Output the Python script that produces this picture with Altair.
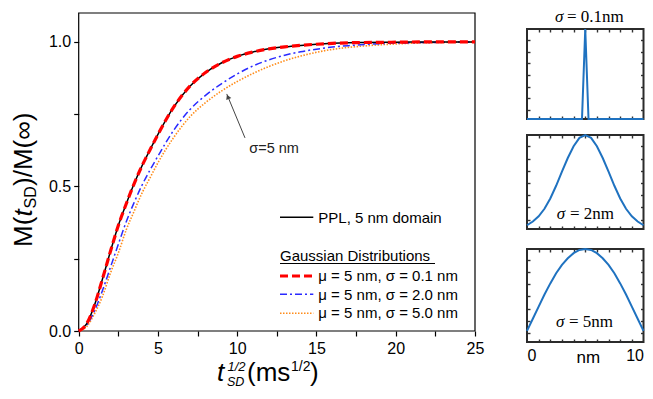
import altair as alt
import pandas as pd

# ---------------- data ----------------
T = [0, 0.5, 1, 1.5, 2, 2.5, 3, 3.5, 4, 4.5, 5, 6, 7, 8, 9, 10, 11, 12, 13, 14,
     15, 16, 17, 18, 20, 22, 25]
PPL = [0, 0.025, 0.09, 0.18, 0.275, 0.365, 0.44, 0.51, 0.572, 0.627, 0.68, 0.775,
       0.846, 0.894, 0.927, 0.95, 0.965, 0.976, 0.983, 0.988, 0.992, 0.995, 0.997,
       0.998, 0.999, 1.0, 1.0]
SIG01 = [0, 0.025, 0.09, 0.18, 0.275, 0.365, 0.44, 0.51, 0.572, 0.627, 0.68, 0.775,
         0.846, 0.894, 0.927, 0.95, 0.965, 0.976, 0.983, 0.988, 0.992, 0.995, 0.997,
         0.998, 0.999, 1.0, 1.0]
SIG2 = [0, 0.02, 0.07, 0.14, 0.22, 0.30, 0.378, 0.445, 0.505, 0.557, 0.605, 0.695,
        0.765, 0.815, 0.855, 0.889, 0.917, 0.938, 0.954, 0.966, 0.975, 0.982, 0.987,
        0.991, 0.996, 0.998, 1.0]
SIG5 = [0, 0.015, 0.06, 0.12, 0.20, 0.27, 0.35, 0.415, 0.478, 0.53, 0.582, 0.67,
        0.74, 0.79, 0.83, 0.863, 0.891, 0.915, 0.935, 0.951, 0.964, 0.974, 0.981,
        0.986, 0.993, 0.997, 1.0]

X_TICKS = [0, 2.5, 5, 7.5, 10, 12.5, 15, 17.5, 20, 22.5, 25]
Y_TICKS = [0, 0.25, 0.5, 0.75, 1.0]

LEGEND_LABELS = ["PPL, 5 nm domain", "μ = 5 nm, σ = 0.1 nm",
                 "μ = 5 nm, σ = 2.0 nm", "μ = 5 nm, σ = 5.0 nm"]

# arrow annotation (data coords)
ARROW_TAIL = (10.49, 0.668)
ARROW_TIP = (9.34, 0.820)
ANNOT_POS = (10.76, 0.616)

# small panels (nm, normalised height)
P1_X = [0, 4.72, 5.0, 5.28, 10]
P1_Y = [0, 0, 1, 0, 0]
NM = [0, 0.5, 1, 1.5, 2, 2.5, 3, 3.5, 4, 4.5, 5, 5.5, 6, 6.5, 7, 7.5, 8, 8.5, 9, 9.5, 10]
P2_Y = [0.04, 0.08, 0.135, 0.215, 0.325, 0.46, 0.61, 0.755, 0.88, 0.97, 1.0, 0.97,
        0.88, 0.755, 0.61, 0.46, 0.325, 0.215, 0.135, 0.08, 0.04]
P3_Y = [0.12, 0.25, 0.38, 0.51, 0.63, 0.74, 0.83, 0.90, 0.955, 0.99, 1.0, 0.99,
        0.955, 0.90, 0.83, 0.74, 0.63, 0.51, 0.38, 0.25, 0.12]
PANEL_XT = [1, 2, 3, 4, 5, 6, 7, 8, 9]
PANEL_YT = [0.1, 0.23, 0.36, 0.49, 0.62, 0.75, 0.88]

# ---------------- layout / style ----------------
W, H = 637, 381
SANS = "Liberation Sans"
SERIF = "Liberation Serif"
BLUE = "#1f72c0"
ONE = pd.DataFrame({"k": [0]})

MX = alt.Scale(domain=[0, 25], range=[70.7, 467], nice=False, zero=False)
MY = alt.Scale(domain=[0, 1.1], range=[323, 5], nice=False, zero=False)


def tx(text, x, y, size=16, font=SANS, style=None, align="left",
       baseline="alphabetic", angle=None, color="black"):
    kw = dict(text=text, fontSize=size, font=font, align=align,
              baseline=baseline, color=color)
    if style:
        kw["fontStyle"] = style
    if angle is not None:
        kw["angle"] = angle
    return alt.Chart(ONE).mark_text(**kw).encode(x=alt.value(x), y=alt.value(y))


def prule(x0, x1, y, color, width, dash=None):
    kw = dict(color=color, strokeWidth=width)
    if dash:
        kw["strokeDash"] = dash
    return alt.Chart(ONE).mark_rule(**kw).encode(
        x=alt.value(x0), x2=alt.value(x1), y=alt.value(y))


def mline(vals, color, width, dash=None):
    kw = dict(color=color, strokeWidth=width, interpolate="monotone")
    if dash:
        kw["strokeDash"] = dash
    return alt.Chart(pd.DataFrame({"t": T, "v": vals})).mark_line(**kw).encode(
        x=alt.X("t:Q", scale=MX, axis=None),
        y=alt.Y("v:Q", scale=MY, axis=None))


axis_style = dict(domain=False, grid=False, ticks=True, tickSize=5, tickWidth=1.2,
                  tickColor="black", labelFont=SANS, labelFontSize=16,
                  labelColor="black", labelFlush=False, labelOverlap=False,
                  title=None)

main_frame = alt.Chart(pd.DataFrame({"x0": [0], "x1": [25], "y0": [0], "y1": [1.1]})).mark_rect(
    fillOpacity=0, stroke="black", strokeWidth=1.2).encode(
    x=alt.X("x0:Q", scale=MX, axis=alt.Axis(
        orient="bottom", offset=323 - H, values=X_TICKS, labelPadding=4,
        labelExpr="datum.value % 5 == 0 ? format(datum.value, 'd') : ''", **axis_style)),
    x2="x1",
    y=alt.Y("y0:Q", scale=MY, axis=alt.Axis(
        orient="left", offset=-70.7, values=Y_TICKS, labelPadding=3,
        labelExpr="datum.value % 0.5 == 0 ? format(datum.value, '.1f') : ''", **axis_style)),
    y2="y1")

layers = [main_frame,
          mline(SIG5, "#ff8c1a", 1.6, [1.5, 1.5]),
          mline(SIG2, "#2a2aff", 1.5, [7, 3, 2, 3]),
          mline(PPL, "black", 1.5),
          mline(SIG01, "#ff0000", 3.2, [8, 4])]

# arrow + annotation
arrow = alt.Chart(pd.DataFrame({"t0": [ARROW_TAIL[0]], "v0": [ARROW_TAIL[1]],
                                "t1": [ARROW_TIP[0]], "v1": [ARROW_TIP[1]]})).mark_rule(
    color="#444", strokeWidth=1).encode(
    x=alt.X("t0:Q", scale=MX, axis=None), y=alt.Y("v0:Q", scale=MY, axis=None),
    x2="t1", y2="v1")
head = alt.Chart(pd.DataFrame({"t": [ARROW_TIP[0] + 0.07], "v": [ARROW_TIP[1] - 0.01]})).mark_point(
    shape="triangle-up", filled=True, size=30, angle=337, color="#444", opacity=1).encode(
    x=alt.X("t:Q", scale=MX, axis=None), y=alt.Y("v:Q", scale=MY, axis=None))
annot = alt.Chart(pd.DataFrame({"t": [ANNOT_POS[0]], "v": [ANNOT_POS[1]]})).mark_text(
    text="σ=5 nm", font=SANS, fontSize=14.5, align="left", baseline="alphabetic",
    color="#222").encode(
    x=alt.X("t:Q", scale=MX, axis=None), y=alt.Y("v:Q", scale=MY, axis=None))
layers += [arrow, head, annot]

# legend
layers += [
    prule(272, 305.3, 209.3, "black", 1.5),
    tx(LEGEND_LABELS[0], 310.3, 215, size=15),
    tx("Gaussian Distributions", 272, 253, size=15),
    prule(272, 427, 255.5, "black", 1),
    prule(272, 305.3, 268, "#ff0000", 3.2, [8, 4]),
    tx(LEGEND_LABELS[1], 310.3, 273, size=15),
    prule(272, 305.3, 286.3, "#2a2aff", 1.5, [7, 3, 2, 3]),
    tx(LEGEND_LABELS[2], 310.3, 292, size=15),
    prule(272, 305.3, 305.3, "#ff8c1a", 1.6, [1.5, 1.5]),
    tx(LEGEND_LABELS[3], 310.3, 310.3, size=15),
]

# axis titles (rich text pieces)
layers += [
    tx("M(", 24, 239, size=26, angle=270),
    tx("t", 24, 208.5, size=26, style="italic", angle=270),
    tx("SD", 27.5, 200.5, size=16, angle=270),
    tx(")/M(∞)", 24, 178, size=26, angle=270),
    tx("t", 209, 372.5, size=26, style="italic"),
    tx("1/2", 219.5, 362.7, size=13, style="italic"),
    tx("SD", 219, 377.5, size=12.5, style="italic"),
    tx("(ms", 239, 372.5, size=26),
    tx("1/2", 283, 362.7, size=14),
    tx(")", 302, 372.5, size=26),
]

# small panels
tick_style = dict(domain=False, grid=False, labels=False, ticks=True, tickSize=3,
                  tickWidth=1.4, tickColor="#333", title=None)
PL, PR = 519, 635.5


def panel(xs, ys, top, bottom):
    sx = alt.Scale(domain=[0, 10], range=[PL, PR], nice=False, zero=False)
    sy = alt.Scale(domain=[0, 1], range=[bottom, top], nice=False, zero=False)
    frame = alt.Chart(pd.DataFrame({"a": [0], "b": [10], "c": [0], "d": [1]})).mark_rect(
        fillOpacity=0, stroke="#2b2b2b", strokeWidth=2).encode(
        x=alt.X("a:Q", scale=sx, axis=alt.Axis(orient="top", offset=-(top + 3),
                                               values=PANEL_XT, **tick_style)),
        x2="b",
        y=alt.Y("c:Q", scale=sy, axis=alt.Axis(orient="right", offset=-(W - (PR - 3)),
                                               values=PANEL_YT, **tick_style)),
        y2="d")
    line = alt.Chart(pd.DataFrame({"x": xs, "y": ys})).mark_line(
        color=BLUE, strokeWidth=2).encode(
        x=alt.X("x:Q", scale=sx, axis=alt.Axis(orient="bottom", offset=(bottom - 3) - H,
                                               values=PANEL_XT, **tick_style)),
        y=alt.Y("y:Q", scale=sy, axis=alt.Axis(orient="left", offset=-(PL + 3),
                                               values=PANEL_YT, **tick_style)))
    return [frame, line], sx


l1, _ = panel(P1_X, P1_Y, 21, 111)
l2, _ = panel(NM, P2_Y, 127, 221)
l3, sx3 = panel(NM, P3_Y, 241, 334)
layers += l1 + l2 + l3

nm_label = alt.Chart(pd.DataFrame({"x": [5]})).mark_text(
    text="nm", font=SANS, fontSize=17, align="center", baseline="alphabetic",
    color="black", dx=3).encode(
    x=alt.X("x:Q", scale=sx3, axis=alt.Axis(
        orient="bottom", offset=334 - H, values=[0, 10], ticks=False, tickSize=0,
        domain=False, grid=False, labelFont=SANS, labelFontSize=16, labelColor="black",
        labelPadding=5, labelFlush=True, labelOverlap=False, format="d", title=None)),
    y=alt.value(355))
layers.append(nm_label)

# panel captions
layers += [
    tx("σ", 547, 13.5, size=17, font=SERIF, style="italic"),
    tx("= 0.1nm", 559, 13.5, size=17, font=SERIF),
    tx("σ", 548.7, 211, size=17, font=SERIF, style="italic"),
    tx("= 2nm", 562, 211, size=17, font=SERIF),
    tx("σ", 548, 318.7, size=17, font=SERIF, style="italic"),
    tx("= 5nm", 561, 318.7, size=17, font=SERIF),
]

chart = alt.layer(*layers).resolve_scale(x="independent", y="independent").properties(
    width=W, height=H, padding=0, autosize=alt.AutoSizeParams(type="none"),
    background="white").configure_view(stroke=None)

chart.save("out.html", embed_options={"renderer": "svg", "actions": False})
